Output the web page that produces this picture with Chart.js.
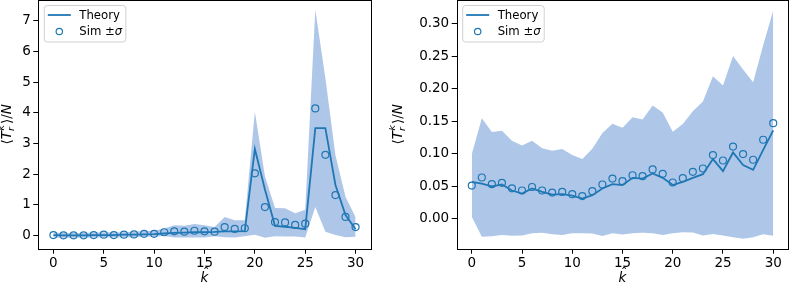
<!DOCTYPE html>
<html><head><meta charset="utf-8">
<script src="https://cdn.jsdelivr.net/npm/chart.js@4"></script>
<style>
html,body{margin:0;padding:0;background:#fff;overflow:hidden}
#wrap{position:relative;width:789px;height:284px}
canvas{position:absolute;top:0}
</style></head><body><div id="wrap">
<canvas id="c1" width="389" height="284" style="left:0"></canvas>
<canvas id="c2" width="400" height="284" style="left:389px"></canvas>
</div>
<script>
// ---- data ----
const kValues = [0,1,2,3,4,5,6,7,8,9,10,11,12,13,14,15,16,17,18,19,20,21,22,23,24,25,26,27,28,29,30];
const xTicks = [0,5,10,15,20,25,30];

const leftTheory = [0.02,0.01,0.01,0.01,0.02,0.02,0.02,0.03,0.03,0.04,0.05,0.07,0.09,0.10,0.11,0.11,0.12,0.14,0.14,0.15,2.82,1.50,0.32,0.29,0.25,0.21,3.50,3.50,1.65,0.67,0.21];
const leftSimMean = [0.02,0.01,0.01,0.01,0.02,0.03,0.02,0.03,0.04,0.06,0.06,0.11,0.14,0.13,0.16,0.14,0.13,0.28,0.22,0.24,2.03,0.93,0.44,0.43,0.35,0.39,4.14,2.63,1.32,0.61,0.28];
const leftSimSigma = [0.08,0.08,0.08,0.08,0.08,0.08,0.08,0.08,0.09,0.09,0.10,0.12,0.20,0.19,0.22,0.20,0.15,0.33,0.28,0.26,2.00,1.00,0.46,0.46,0.38,0.45,3.21,2.50,1.30,0.66,0.32];
const leftYTicks = [0,1,2,3,4,5,6,7];

const rightTheory = [0.057,0.0543,0.050,0.0528,0.0436,0.039,0.0467,0.0415,0.0374,0.038,0.0359,0.0313,0.0364,0.0467,0.0533,0.052,0.063,0.062,0.0697,0.063,0.052,0.057,0.063,0.0687,0.0918,0.0734,0.102,0.0826,0.0754,0.106,0.136];
const rightSimMean = [0.0512,0.0636,0.0533,0.0554,0.047,0.0436,0.049,0.0436,0.0405,0.0415,0.038,0.035,0.0426,0.0528,0.062,0.058,0.067,0.0656,0.0759,0.0692,0.0559,0.0626,0.0723,0.0774,0.098,0.0897,0.111,0.0995,0.0908,0.1215,0.147];
const rightSimSigma = [0.048,0.091,0.080,0.080,0.073,0.069,0.071,0.065,0.064,0.066,0.060,0.057,0.065,0.079,0.084,0.082,0.089,0.087,0.098,0.094,0.078,0.083,0.093,0.103,0.121,0.115,0.139,0.130,0.119,0.145,0.173];
const rightYTicks = [0,0.05,0.10,0.15,0.20,0.25,0.30];

// ---- styling ----
const C0 = '#1f77b4';
const BAND = '#aec7e8';
const FONT = 'DejaVu Sans';
const TICK_PX = 13.5;
Chart.defaults.font.family = FONT;
Chart.defaults.font.size = TICK_PX;
Chart.defaults.color = '#000';

// draws an italic k with a hat above it, left edge at x, baseline y
function drawKHat(ctx, x, y, size) {
  ctx.font = 'italic ' + size + 'px "' + FONT + '"';
  ctx.textAlign = 'left';
  ctx.fillText('k', x, y);
  const w = ctx.measureText('k').width;
  ctx.font = size + 'px "' + FONT + '"';
  const hw = ctx.measureText('\u02C6').width;
  ctx.fillText('\u02C6', x + w / 2 - hw / 2 + size * 0.12, y - size * 0.28);
  return w;
}

function drawYLabel(ctx, cx, cy) {
  ctx.save();
  ctx.translate(cx, cy);
  ctx.rotate(-Math.PI / 2);
  ctx.fillStyle = '#000';
  ctx.textBaseline = 'alphabetic';
  const b = 13.5, s = 9.5;
  const fN = b + 'px "' + FONT + '"', fI = 'italic ' + b + 'px "' + FONT + '"', fS = 'italic ' + s + 'px "' + FONT + '"';
  const parts = [
    {t: '\u27E8', f: fN}, {t: 'T', f: fI},
    {script: true},
    {t: '\u27E9/', f: fN}, {t: 'N', f: fI}
  ];
  let total = 0;
  parts.forEach(p => {
    if (p.script) {
      ctx.font = fS;
      p.w = Math.max(ctx.measureText('k').width, ctx.measureText('r').width) + 1.5;
    } else { ctx.font = p.f; p.w = ctx.measureText(p.t).width; }
    total += p.w;
  });
  let x = -total / 2;
  const y = 4.5;
  parts.forEach(p => {
    if (p.script) {
      drawKHat(ctx, x + 0.5, y - 7, s);
      ctx.font = fS;
      ctx.fillText('r', x, y + 3);
    } else { ctx.font = p.f; ctx.fillText(p.t, x, y); }
    x += p.w;
  });
  ctx.restore();
}

function drawLegend(ctx, ca) {
  const x0 = ca.left + 5.5, y0 = ca.top + 5, w = 81.5, h = 36.5, r = 3;
  ctx.save();
  ctx.beginPath();
  ctx.roundRect(x0 + 0.5, y0 + 0.5, w, h, r);
  ctx.fillStyle = 'rgba(255,255,255,0.8)';
  ctx.fill();
  ctx.strokeStyle = '#d0d0d0';
  ctx.lineWidth = 1;
  ctx.stroke();
  ctx.beginPath();
  ctx.moveTo(x0 + 4, y0 + 10);
  ctx.lineTo(x0 + 27, y0 + 10);
  ctx.strokeStyle = C0;
  ctx.lineWidth = 1.8;
  ctx.stroke();
  ctx.beginPath();
  ctx.arc(x0 + 15.5, y0 + 26.5, 3.2, 0, Math.PI * 2);
  ctx.lineWidth = 1.2;
  ctx.stroke();
  ctx.fillStyle = '#000';
  ctx.textBaseline = 'middle';
  ctx.font = '11.7px "' + FONT + '"';
  ctx.fillText('Theory', x0 + 35.5, y0 + 10.5);
  const simTxt = 'Sim \u00B1';
  ctx.fillText(simTxt, x0 + 35.5, y0 + 27);
  const wS = ctx.measureText(simTxt).width;
  ctx.font = 'italic 11.7px "' + FONT + '"';
  ctx.fillText('\u03C3', x0 + 35.5 + wS, y0 + 27);
  ctx.restore();
}

function makeChart(id, theory, mean, sigma, yTicks, yMin, yMax, fmt, yWidth, padRight, yLabelX) {
  const upper = kValues.map((k, i) => ({x: k, y: mean[i] + sigma[i]}));
  const lower = kValues.map((k, i) => ({x: k, y: mean[i] - sigma[i]}));
  const theo = kValues.map((k, i) => ({x: k, y: theory[i]}));
  const sim = kValues.map((k, i) => ({x: k, y: mean[i]}));
  const deco = {
    id: 'deco',
    afterDraw(chart) {
      const ctx = chart.ctx, ca = chart.chartArea;
      ctx.save();
      ctx.strokeStyle = '#000';
      ctx.lineWidth = 1;
      const l = Math.round(ca.left) + 0.5, t = Math.round(ca.top) + 0.5;
      const r = Math.round(ca.right) + 0.5, b = Math.round(ca.bottom) + 0.5;
      ctx.strokeRect(l, t, r - l, b - t);
      ctx.restore();
      drawLegend(ctx, ca);
      ctx.save();
      ctx.fillStyle = '#000';
      ctx.textBaseline = 'alphabetic';
      ctx.font = 'italic 13.5px "' + FONT + '"';
      const kw = ctx.measureText('k').width;
      drawKHat(ctx, (ca.left + ca.right) / 2 - kw / 2, 282, 13.5);
      ctx.restore();
      drawYLabel(ctx, yLabelX, (ca.top + ca.bottom) / 2);
    }
  };
  return new Chart(document.getElementById(id), {
    type: 'line',
    data: {
      datasets: [
        {data: upper, fill: '+1', backgroundColor: BAND, borderWidth: 0, pointRadius: 0, order: 3},
        {data: lower, fill: false, borderWidth: 0, pointRadius: 0, order: 3},
        {data: theo, borderColor: C0, borderWidth: 1.8, pointRadius: 0, fill: false, tension: 0, order: 1},
        {data: sim, showLine: false, pointRadius: 3.5, pointBorderColor: C0, pointBackgroundColor: 'rgba(0,0,0,0)', pointBorderWidth: 1.2, order: 0}
      ]
    },
    options: {
      responsive: false,
      animation: false,
      devicePixelRatio: 1,
      layout: {autoPadding: false, padding: {top: 0, right: padRight, left: 0, bottom: 0}},
      plugins: {legend: {display: false}, tooltip: {enabled: false}},
      scales: {
        x: {
          type: 'linear', min: -1.5, max: 31.5,
          afterBuildTicks: s => { s.ticks = xTicks.map(v => ({value: v})); },
          afterFit: s => { s.height = 35.3; s.paddingLeft = 0; s.paddingRight = 0; },
          ticks: {padding: 2, maxRotation: 0, autoSkip: false},
          grid: {drawOnChartArea: false, drawTicks: true, tickLength: 5, color: '#000'},
          border: {display: false}
        },
        y: {
          type: 'linear', min: yMin, max: yMax,
          afterBuildTicks: s => { s.ticks = yTicks.map(v => ({value: v})); },
          afterFit: s => { s.width = yWidth; s.paddingTop = 0; s.paddingBottom = 0; },
          ticks: {padding: 2.5, autoSkip: false, callback: v => fmt(v)},
          grid: {drawOnChartArea: false, drawTicks: true, tickLength: 5, color: '#000'},
          border: {display: false}
        }
      }
    },
    plugins: [deco]
  });
}

makeChart('c1', leftTheory, leftSimMean, leftSimSigma, leftYTicks, -0.425, 7.67, v => String(v), 38.3, 18.3, 6);
makeChart('c2', rightTheory, rightSimMean, rightSimSigma, rightYTicks, -0.0457, 0.336, v => v.toFixed(2), 67.7, 0.7, 8.5);
</script>
</body></html>
